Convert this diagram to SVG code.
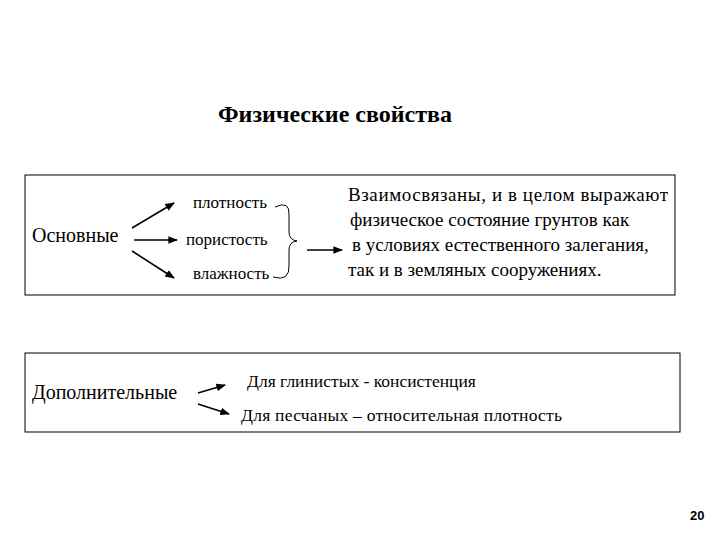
<svg xmlns="http://www.w3.org/2000/svg" width="720" height="540" viewBox="0 0 720 540" font-family="'Liberation Serif','DejaVu Serif',serif">
<style>
text{font-family:'Liberation Serif','DejaVu Serif',serif;fill:#000}
.s{font-size:17px}.m{font-size:19px}.l{font-size:20px}.d{font-size:17.5px}.b{fill:none;stroke:#000;stroke-width:1}
.c line{stroke:#000;stroke-width:1.6;marker-end:url(#a)}
</style>
<defs><marker id="a" viewBox="0 0 10 10" refX="9" refY="5" markerWidth="6" markerHeight="6" orient="auto"><path d="M0,1L10,5L0,9z"/></marker></defs>
<rect width="720" height="540" fill="#fff"/>
<text x="335" y="122" font-size="24" font-weight="bold" text-anchor="middle">Физические свойства</text>
<rect class="b" x="25" y="175" width="650" height="120"/>
<rect class="b" x="25" y="353" width="655" height="79"/>
<g id="osn"><text class="l" x="32" y="242">Основные</text></g>
<g id="p1"><text class="s" x="193" y="208">плотность</text></g>
<g id="p2"><text class="s" x="186" y="245">пористость</text></g>
<g id="p3"><text class="s" x="193" y="279">влажность</text></g>
<g id="desc"><text class="m" x="348" y="201" textLength="320">Взаимосвязаны, и в целом выражают</text>
<text class="m" x="350" y="226">физическое состояние грунтов как</text>
<text class="m" x="352" y="251">в условиях естественного залегания,</text>
<text class="m" x="348" y="276">так и в земляных сооружениях.</text></g>
<g id="dop"><text class="l" x="32" y="399">Дополнительные</text></g>
<g id="g1"><text class="d" x="247" y="387">Для глинистых - консистенция</text></g>
<g id="g2"><text class="d" x="241" y="421" textLength="321">Для песчаных – относительная плотность</text></g>
<g class="c" id="connectors">
<line x1="132" y1="228" x2="174" y2="203"/>
<line x1="134" y1="240" x2="177" y2="240"/>
<line x1="132" y1="251" x2="174" y2="278"/>
<line x1="307" y1="250" x2="342" y2="250"/>
<line x1="198" y1="393" x2="225" y2="385"/>
<line x1="198" y1="404" x2="229" y2="414"/>
<path d="M275,207 Q290,200 289,215 L289,232 Q289,240 297,241 Q289,242 289,250 L289,265 Q290,282 273,277" fill="none" stroke="#000" stroke-width="1"/>
</g>
<text x="690" y="520" font-family="'Liberation Sans',sans-serif" style="font-family:'Liberation Sans',sans-serif" font-size="13" font-weight="bold">20</text>
</svg>
